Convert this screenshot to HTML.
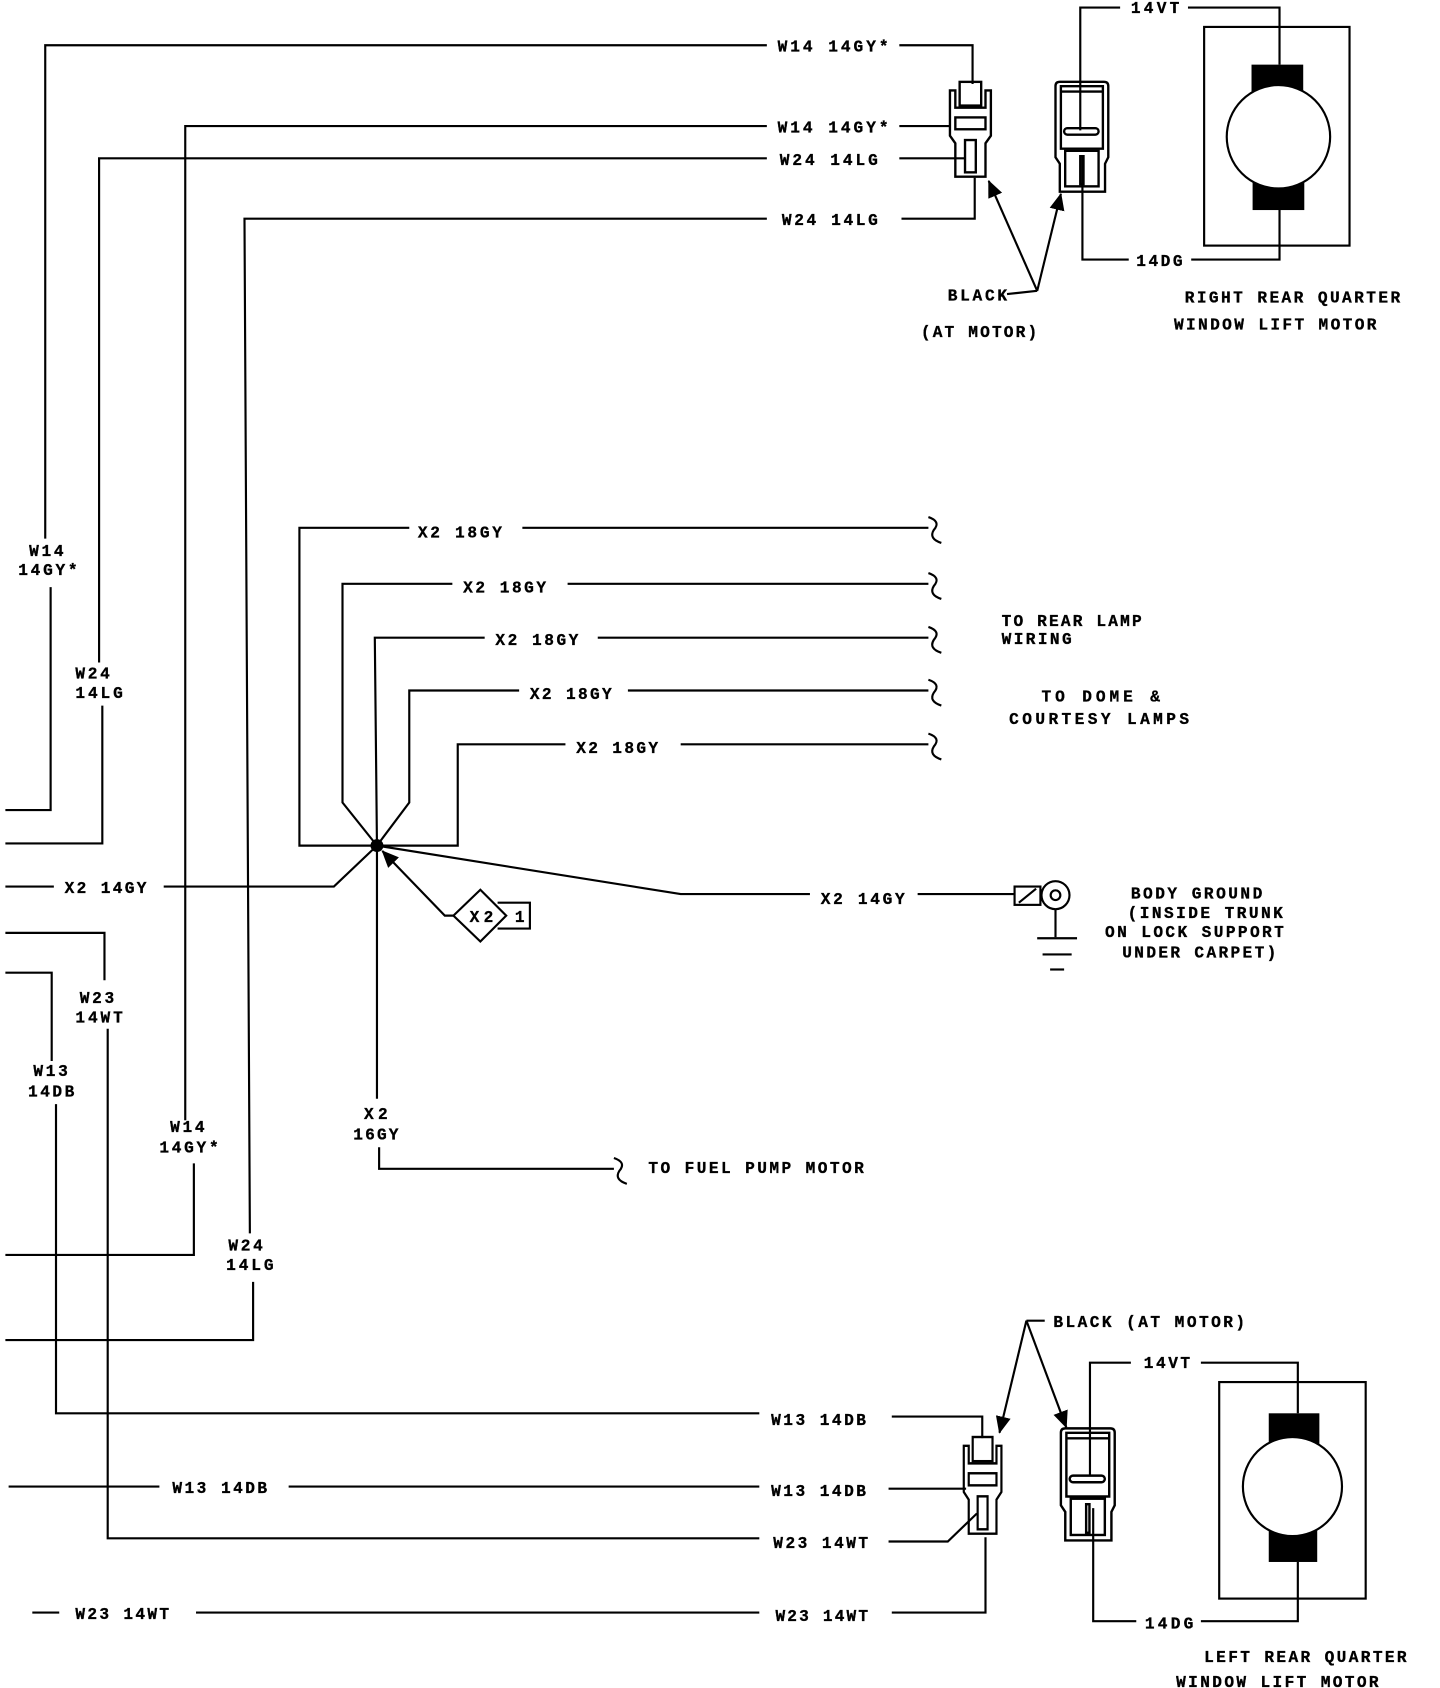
<!DOCTYPE html>
<html><head><meta charset="utf-8"><style>
html,body{margin:0;padding:0;background:#fff;}
svg{display:block}
text{font-family:"Liberation Mono","DejaVu Sans Mono",monospace;font-weight:bold;font-size:15px;fill:#000;stroke:#000;stroke-width:0.3}
</style></head><body>
<svg width="1440" height="1688" viewBox="0 0 1337 1567" preserveAspectRatio="none" xmlns="http://www.w3.org/2000/svg">
<defs>
<g id="plug" fill="none" stroke="#000" stroke-width="2.2">
<path d="M2,8 V50 L7,57 V88 H35 V57 L40,50 V8 H35 V24 H7 V8 Z"/>
<rect x="11" y="0" width="20" height="22"/>
<rect x="7" y="33" width="28" height="11"/>
<rect x="16" y="54" width="10" height="30"/>
</g>
<g id="sock" fill="none" stroke="#000" stroke-width="2.2">
<path d="M4,0 H45 Q49,0 49,4 V70 L46,76 V102 H4 V76 L0,70 V4 Q0,0 4,0 Z"/>
<path d="M5,4 H44 V62 H5 Z"/>
<line x1="5" y1="9" x2="44" y2="9"/>
<rect x="8" y="43" width="32" height="6" rx="3"/>
<rect x="9" y="64" width="31" height="33"/>
<rect x="23" y="69" width="3" height="26"/>
</g>
<marker id="ahb" markerWidth="16" markerHeight="14" refX="15" refY="7" orient="auto" markerUnits="userSpaceOnUse" viewBox="0 0 16 14"><path d="M0,0 L16,7 L0,14 Z" fill="#000"/></marker>
</defs>
<g fill="none" stroke="#000" stroke-width="2">
<polyline points="42,500 42,42 712,42"/><polyline points="835,42 903,42 903,78"/>
<polyline points="47,545 47,752 5,752"/>
<polyline points="172,1040 172,117 712,117"/><line x1="835" y1="117" x2="882" y2="117"/>
<polyline points="180,1080 180,1165 5,1165"/>
<polyline points="92,615 92,147 712,147"/><line x1="835" y1="147" x2="896" y2="147"/>
<polyline points="95,655 95,783 5,783"/>
<polyline points="232,1145 227,203 712,203"/><polyline points="837,203 905,203 905,165"/>
<polyline points="235,1190 235,1244 5,1244"/>
<polyline points="1003,121 1003,7 1040,7"/><polyline points="1103,7 1188,7 1188,60"/>
<rect x="1118" y="25" width="135" height="203"/>
<polyline points="1005,145 1005,241 1048,241"/><polyline points="1106,241 1188,241 1188,195"/>
<polyline points="935,273 963,270"/>
<line x1="963" y1="270" x2="918" y2="168" marker-end="url(#ahb)"/>
<line x1="963" y1="270" x2="985" y2="180" marker-end="url(#ahb)"/>
<polyline points="380,490 278,490 278,785 350,785"/><line x1="485" y1="490" x2="862" y2="490"/>
<polyline points="420,542 318,542 318,745 350,785"/><line x1="527" y1="542" x2="862" y2="542"/>
<polyline points="450,592 348,592 350,785 350,1020"/><line x1="555" y1="592" x2="862" y2="592"/>
<polyline points="482,641 380,641 380,745 350,785"/><line x1="583" y1="641" x2="862" y2="641"/>
<polyline points="525,691 425,691 425,785 350,785"/><line x1="632" y1="691" x2="862" y2="691"/>
<path d="M862,480 Q874,484 867,492 Q862,500 874,504"/>
<path d="M862,532 Q874,536 867,544 Q862,552 874,556"/>
<path d="M862,582 Q874,586 867,594 Q862,602 874,606"/>
<path d="M862,631 Q874,635 867,643 Q862,651 874,655"/>
<path d="M862,681 Q874,685 867,693 Q862,701 874,705"/>
<line x1="5" y1="823" x2="50" y2="823"/><polyline points="152,823 310,823 350,785 632,830 752,830"/>
<line x1="852" y1="830" x2="942" y2="830"/>
<rect x="942" y="823" width="24" height="17"/><line x1="946" y1="838" x2="962" y2="825"/>
<circle cx="980" cy="831" r="13"/><circle cx="980" cy="831" r="4.5"/>
<line x1="980" y1="844" x2="980" y2="870"/>
<line x1="963" y1="871" x2="1000" y2="871"/><line x1="968" y1="886" x2="995" y2="886"/><line x1="975" y1="900" x2="988" y2="900"/>
<polyline points="421,850 413,850 355,790" marker-end="url(#ahb)"/>
<path d="M421,850 L446,826 L470,850 L446,874 Z" fill="#fff"/>
<polyline points="462,838 492,838 492,862 462,862"/>
<polyline points="352,1065 352,1085 570,1085"/>
<path d="M570,1075 Q582,1079 575,1087 Q570,1095 582,1099"/>
<polyline points="5,866 97,866 97,910"/><polyline points="100,955 100,1428 705,1428"/><polyline points="825,1431 880,1431 907,1405"/>
<polyline points="5,903 48,903 48,985"/><polyline points="52,1025 52,1312 705,1312"/><polyline points="828,1315 912,1315 912,1335"/>
<line x1="8" y1="1380" x2="148" y2="1380"/><line x1="268" y1="1380" x2="705" y2="1380"/><line x1="825" y1="1382" x2="897" y2="1382"/>
<line x1="30" y1="1497" x2="55" y2="1497"/><line x1="182" y1="1497" x2="705" y2="1497"/><polyline points="828,1497 915,1497 915,1427"/>
<polyline points="1012,1370 1012,1265 1050,1265"/><polyline points="1115,1265 1205,1265 1205,1312"/>
<rect x="1132" y="1283" width="136" height="201"/>
<polyline points="1015,1400 1015,1505 1055,1505"/><polyline points="1115,1505 1205,1505 1205,1450"/>
<line x1="953" y1="1226" x2="970" y2="1226"/>
<line x1="953" y1="1226" x2="928" y2="1330" marker-end="url(#ahb)"/>
<line x1="953" y1="1226" x2="990" y2="1325" marker-end="url(#ahb)"/>
</g>
<circle cx="350" cy="785" r="6" fill="#000"/>
<use href="#plug" transform="translate(880,76)"/>
<use href="#sock" transform="translate(980,76)"/>
<use href="#plug" transform="translate(893,1334) scale(0.92,1.02)"/>
<use href="#sock" transform="translate(985,1326) scale(1.02,1.02)"/>
<rect x="1162" y="60" width="48" height="28" fill="#000"/>
<rect x="1163" y="166" width="48" height="29" fill="#000"/>
<circle cx="1187" cy="127" r="48" fill="#fff" stroke="#000" stroke-width="2"/>
<rect x="1178" y="1312" width="47" height="30" fill="#000"/>
<rect x="1178" y="1420" width="45" height="30" fill="#000"/>
<circle cx="1200" cy="1380" r="46" fill="#fff" stroke="#000" stroke-width="2"/>
<text x="722" y="48" textLength="103" lengthAdjust="spacing">W14 14GY*</text>
<text x="722" y="123" textLength="103" lengthAdjust="spacing">W14 14GY*</text>
<text x="724" y="153" textLength="91" lengthAdjust="spacing">W24 14LG</text>
<text x="726" y="209" textLength="89" lengthAdjust="spacing">W24 14LG</text>
<text x="1050" y="12" textLength="45" lengthAdjust="spacing">14VT</text>
<text x="1055" y="247" textLength="43" lengthAdjust="spacing">14DG</text>
<text x="880" y="279" textLength="55" lengthAdjust="spacing">BLACK</text>
<text x="855" y="313" textLength="108" lengthAdjust="spacing">(AT MOTOR)</text>
<text x="1100" y="281" textLength="200" lengthAdjust="spacing">RIGHT REAR QUARTER</text>
<text x="1090" y="306" textLength="188" lengthAdjust="spacing">WINDOW LIFT MOTOR</text>
<text x="27" y="516" textLength="32" lengthAdjust="spacing">W14</text>
<text x="17" y="534" textLength="55" lengthAdjust="spacing">14GY*</text>
<text x="70" y="630" textLength="32" lengthAdjust="spacing">W24</text>
<text x="70" y="648" textLength="44" lengthAdjust="spacing">14LG</text>
<text x="388" y="499" textLength="78" lengthAdjust="spacing">X2 18GY</text>
<text x="430" y="550" textLength="77" lengthAdjust="spacing">X2 18GY</text>
<text x="460" y="599" textLength="77" lengthAdjust="spacing">X2 18GY</text>
<text x="492" y="649" textLength="76" lengthAdjust="spacing">X2 18GY</text>
<text x="535" y="699" textLength="76" lengthAdjust="spacing">X2 18GY</text>
<text x="930" y="581" textLength="130" lengthAdjust="spacing">TO REAR LAMP</text>
<text x="930" y="598" textLength="65" lengthAdjust="spacing">WIRING</text>
<text x="967" y="651" textLength="110" lengthAdjust="spacing">TO DOME &amp;</text>
<text x="937" y="672" textLength="167" lengthAdjust="spacing">COURTESY LAMPS</text>
<text x="60" y="829" textLength="76" lengthAdjust="spacing">X2 14GY</text>
<text x="762" y="839" textLength="78" lengthAdjust="spacing">X2 14GY</text>
<text x="436" y="856" textLength="22" lengthAdjust="spacing">X2</text>
<text x="478" y="856">1</text>
<text x="1050" y="834" textLength="122" lengthAdjust="spacing">BODY GROUND</text>
<text x="1047" y="852" textLength="144" lengthAdjust="spacing">(INSIDE TRUNK</text>
<text x="1026" y="870" textLength="166" lengthAdjust="spacing">ON LOCK SUPPORT</text>
<text x="1042" y="889" textLength="143" lengthAdjust="spacing">UNDER CARPET)</text>
<text x="338" y="1039" textLength="22" lengthAdjust="spacing">X2</text>
<text x="328" y="1058" textLength="42" lengthAdjust="spacing">16GY</text>
<text x="602" y="1089" textLength="200" lengthAdjust="spacing">TO FUEL PUMP MOTOR</text>
<text x="74" y="931" textLength="32" lengthAdjust="spacing">W23</text>
<text x="70" y="949" textLength="44" lengthAdjust="spacing">14WT</text>
<text x="31" y="999" textLength="32" lengthAdjust="spacing">W13</text>
<text x="26" y="1018" textLength="43" lengthAdjust="spacing">14DB</text>
<text x="158" y="1051" textLength="32" lengthAdjust="spacing">W14</text>
<text x="148" y="1070" textLength="55" lengthAdjust="spacing">14GY*</text>
<text x="212" y="1161" textLength="32" lengthAdjust="spacing">W24</text>
<text x="210" y="1179" textLength="44" lengthAdjust="spacing">14LG</text>
<text x="716" y="1323" textLength="88" lengthAdjust="spacing">W13 14DB</text>
<text x="160" y="1386" textLength="88" lengthAdjust="spacing">W13 14DB</text>
<text x="716" y="1389" textLength="88" lengthAdjust="spacing">W13 14DB</text>
<text x="718" y="1437" textLength="88" lengthAdjust="spacing">W23 14WT</text>
<text x="70" y="1503" textLength="87" lengthAdjust="spacing">W23 14WT</text>
<text x="720" y="1505" textLength="86" lengthAdjust="spacing">W23 14WT</text>
<text x="978" y="1232" textLength="178" lengthAdjust="spacing">BLACK (AT MOTOR)</text>
<text x="1062" y="1270" textLength="43" lengthAdjust="spacing">14VT</text>
<text x="1063" y="1512" textLength="45" lengthAdjust="spacing">14DG</text>
<text x="1118" y="1543" textLength="188" lengthAdjust="spacing">LEFT REAR QUARTER</text>
<text x="1092" y="1566" textLength="188" lengthAdjust="spacing">WINDOW LIFT MOTOR</text>
</svg>
</body></html>
